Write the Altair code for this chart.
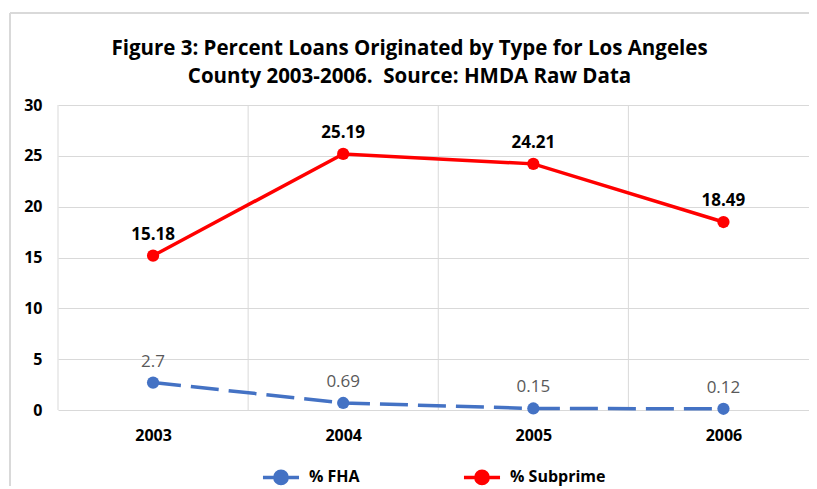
import altair as alt
import pandas as pd

years = [2003, 2004, 2005, 2006]
fha = [2.7, 0.69, 0.15, 0.12]
subprime = [15.18, 25.19, 24.21, 18.49]
series_names = ["% FHA", "% Subprime"]
colors = ["#4472C4", "#FF0000"]
y_ticks = [0, 5, 10, 15, 20, 25, 30]
boundaries = [2002.5, 2003.5, 2004.5, 2005.5]

rows = []
for y, v in zip(years, fha):
    rows.append({"year": y, "value": v, "series": series_names[0]})
for y, v in zip(years, subprime):
    rows.append({"year": y, "value": v, "series": series_names[1]})
df = pd.DataFrame(rows)
grid_df = pd.DataFrame({"b": boundaries})

FONT = "Open Sans"
W, H = 751, 305

xscale = alt.Scale(domain=[2002.5, 2006.45], nice=False, zero=False)
yscale = alt.Scale(domain=[0, 30], nice=False)
cscale = alt.Scale(domain=series_names, range=colors)

sym = "M-1,0L1,0M0.34,0A0.34,0.34,0,1,1,-0.34,0A0.34,0.34,0,1,1,0.34,0Z"

def make_legend():
    return alt.Legend(orient="none", legendX=203, legendY=352, direction="horizontal", title=None,
                      symbolType=sym, symbolSize=1300, symbolStrokeWidth=3.5,
                      labelFont=FONT, labelFontSize=16, labelFontWeight="bold",
                      labelColor="#000000", columnPadding=96, labelOffset=8)

vgrid = alt.Chart(grid_df).mark_rule(color="#d9d9d9", strokeWidth=1).encode(
    x=alt.X("b:Q", scale=xscale, title=None,
            axis=alt.Axis(values=years, format="d", grid=False, domain=False, ticks=False,
                          labelFont=FONT, labelFontSize=16, labelFontWeight="bold",
                          labelColor="#000000", labelPadding=17)),
)

frame_top = alt.Chart(grid_df).mark_rule(color="#d9d9d9", strokeWidth=1.5).encode(
    x=alt.value(-48), x2=alt.value(W + 10), y=alt.value(-92)
)
frame_left = alt.Chart(grid_df).mark_rule(color="#d9d9d9", strokeWidth=1.5).encode(
    x=alt.value(-48), y=alt.value(-92), y2=alt.value(H + 100)
)

base = alt.Chart(df).encode(
    x=alt.X("year:Q", scale=xscale),
    y=alt.Y("value:Q", scale=yscale, title=None,
            axis=alt.Axis(values=y_ticks, grid=True, gridColor="#d9d9d9", domain=False,
                          ticks=False, labelFont=FONT, labelFontSize=16,
                          labelFontWeight="bold", labelColor="#000000", labelPadding=16)),
)

line_sub = base.transform_filter(alt.datum.series == series_names[1]).mark_line(strokeWidth=3.5).encode(
    stroke=alt.Stroke("series:N", scale=cscale, title=None, legend=make_legend()),
)

line_fha = base.transform_filter(alt.datum.series == series_names[0]).mark_line(
    strokeWidth=3.5, strokeDash=[28, 10], color=colors[0])

points = base.mark_point(size=150, filled=True, opacity=1, strokeWidth=0).encode(
    fill=alt.Fill("series:N", scale=cscale, title=None, legend=make_legend())
)

text_fha = base.mark_text(dy=-21, font=FONT, fontSize=17, color="#595959").encode(
    text=alt.Text("value:Q")
).transform_filter(alt.datum.series == series_names[0])

text_sub = base.mark_text(dy=-21, font=FONT, fontSize=17, fontWeight="bold", color="#000000").encode(
    text=alt.Text("value:Q", format=".2f")
).transform_filter(alt.datum.series == series_names[1])

chart = alt.layer(frame_top, frame_left, vgrid, line_sub, line_fha, points, text_fha, text_sub).properties(
    width=W, height=H,
    title=alt.TitleParams(
        ["Figure 3: Percent Loans Originated by Type for Los Angeles",
         "County 2003-2006.\u00a0 Source: HMDA Raw Data"],
        font=FONT, fontSize=20.5, fontWeight="bold", color="#000000",
        anchor="middle", dx=-24, lineHeight=28, offset=-75),
    autosize=alt.AutoSizeParams(type="none"),
    padding={"left": 50, "top": 97, "right": 0, "bottom": 76},
).configure_view(stroke=None)

chart.save("out.html", embed_options={"renderer": "svg", "actions": False})
